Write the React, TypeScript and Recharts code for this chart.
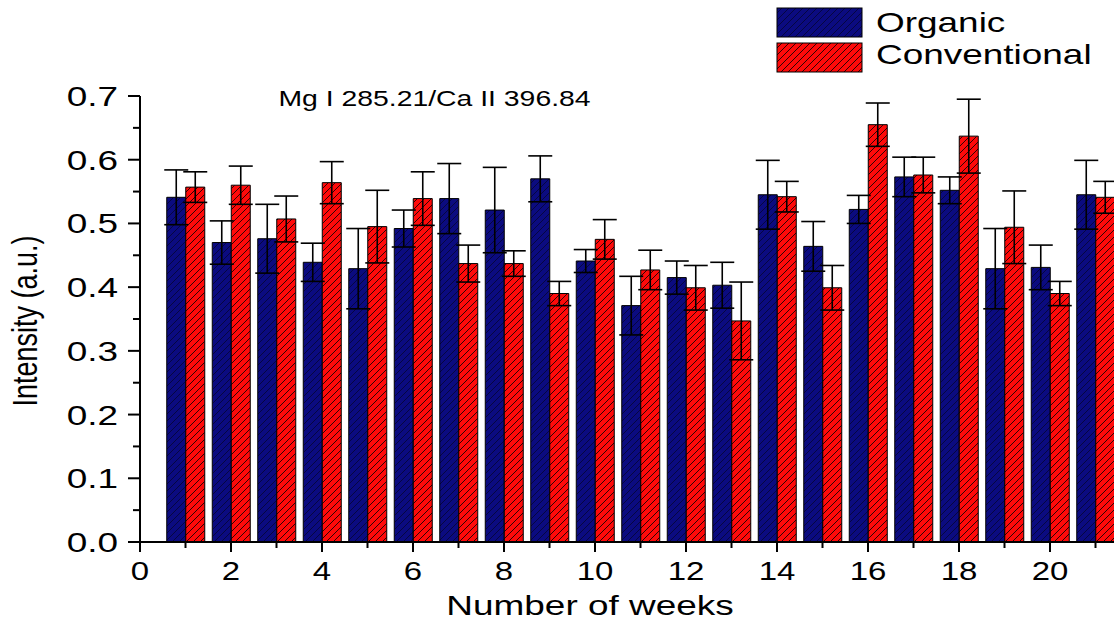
import { BarChart, Bar, XAxis, YAxis, ErrorBar, Legend, Customized } from 'recharts';

// weeks 1..21
const weeks = [1, 2, 3, 4, 5, 6, 7, 8, 9, 10, 11, 12, 13, 14, 15, 16, 17, 18, 19, 20, 21];
const organic = [0.541, 0.470, 0.476, 0.439, 0.429, 0.492, 0.539, 0.521, 0.570, 0.441, 0.371, 0.415, 0.403, 0.545, 0.464, 0.522, 0.573, 0.552, 0.429, 0.431, 0.545];
const organicErr = [0.043, 0.034, 0.054, 0.030, 0.063, 0.029, 0.055, 0.067, 0.036, 0.018, 0.046, 0.026, 0.036, 0.054, 0.039, 0.022, 0.031, 0.021, 0.063, 0.035, 0.054];
const conventional = [0.557, 0.560, 0.507, 0.564, 0.495, 0.539, 0.437, 0.437, 0.390, 0.475, 0.427, 0.399, 0.347, 0.542, 0.399, 0.655, 0.576, 0.637, 0.494, 0.390, 0.541];
const conventionalErr = [0.024, 0.030, 0.036, 0.033, 0.057, 0.042, 0.029, 0.020, 0.019, 0.031, 0.031, 0.035, 0.061, 0.024, 0.035, 0.034, 0.028, 0.058, 0.057, 0.019, 0.025];

const xTicks = [0, 1, 2, 3, 4, 5, 6, 7, 8, 9, 10, 11, 12, 13, 14, 15, 16, 17, 18, 19, 20, 21];
const yTicks = [0, 0.05, 0.1, 0.15, 0.2, 0.25, 0.3, 0.35, 0.4, 0.45, 0.5, 0.55, 0.6, 0.65, 0.7];

const title = 'Mg I 285.21/Ca II 396.84';
const seriesOrder = ['organic', 'conventional'];
const seriesNames = { organic: 'Organic', conventional: 'Conventional' };

const data = weeks.map((week, i) => ({
  week,
  organic: organic[i],
  organicErr: organicErr[i],
  conventional: conventional[i],
  conventionalErr: conventionalErr[i],
}));

const FONT = '"Liberation Sans", Arial, sans-serif';
const SX = 1.32; // source image is stretched horizontally
const NAVY = '#0b0b80';
const RED = '#ff0a0a';

function Hatch({ id, color, lineOpacity }: { id: string; color: string; lineOpacity: number }) {
  return (
    <pattern id={id} patternUnits="userSpaceOnUse" width={7} height={7}>
      <rect width={7} height={7} fill={color} />
      <path d="M0,7 L7,0 M-2,2 L2,-2 M5,9 L9,5" stroke="#000" strokeOpacity={lineOpacity} strokeWidth={0.9} />
    </pattern>
  );
}

function XTick({ x, y, payload }: any) {
  const major = payload.value % 2 === 0;
  return (
    <g>
      <line x1={x} x2={x} y1={y} y2={y + (major ? 10 : 6)} stroke="#000" strokeWidth={2} />
      {major && (
        <text transform={`translate(${x},${y + 38}) scale(${SX},1)`} textAnchor="middle" fontSize={25} fontFamily={FONT} fill="#000">
          {payload.value}
        </text>
      )}
    </g>
  );
}

function YTick({ x, y, payload }: any) {
  const v = payload.value;
  const major = Math.round(v * 100) % 10 === 0;
  return (
    <g>
      <line x1={x} x2={x - (major ? 12 : 7)} y1={y} y2={y} stroke="#000" strokeWidth={2} />
      {major && (
        <text transform={`translate(${x - 22},${y + 10}) scale(${SX},1)`} textAnchor="end" fontSize={28} fontFamily={FONT} fill="#000">
          {v.toFixed(1)}
        </text>
      )}
    </g>
  );
}

function Extras() {
  return (
    <g>
      <defs>
        <Hatch id="hatchBlue" color={NAVY} lineOpacity={0.55} />
        <Hatch id="hatchRed" color={RED} lineOpacity={0.9} />
      </defs>
      <text transform={`translate(434.5,106) scale(${SX},1)`} textAnchor="middle" fontSize={21.5} fontFamily={FONT} fill="#000">
        {title}
      </text>
      <text transform={`translate(37,321) scale(${SX},1) rotate(-90)`} textAnchor="middle" fontSize={27} fontFamily={FONT} fill="#000">
        Intensity (a.u.)
      </text>
      <text transform={`translate(590,615) scale(${SX},1)`} textAnchor="middle" fontSize={28} fontFamily={FONT} fill="#000">
        Number of weeks
      </text>
    </g>
  );
}

function LegendBox({ payload }: any) {
  const items = [...(payload || [])].sort(
    (a: any, b: any) => seriesOrder.indexOf(a.dataKey) - seriesOrder.indexOf(b.dataKey)
  );
  return (
    <svg width={340} height={70} style={{ display: 'block' }}>
      <defs>
        <Hatch id="lgBlue" color={NAVY} lineOpacity={0.55} />
        <Hatch id="lgRed" color={RED} lineOpacity={0.9} />
      </defs>
      {items.map((p: any, i: number) => (
        <g key={p.value}>
          <rect x={1} y={1 + i * 35} width={85} height={29} fill={`url(#${p.dataKey === 'organic' ? 'lgBlue' : 'lgRed'})`} stroke="#000" strokeWidth={1} />
          <text transform={`translate(100,${25 + i * 31.5}) scale(${SX},1)`} fontSize={28} fontFamily={FONT} fill="#000">
            {p.value}
          </text>
        </g>
      ))}
    </svg>
  );
}

export default function App() {
  return (
    <div style={{ position: 'fixed', left: 0, top: 0, width: 1114, height: 623, overflow: 'hidden', background: '#fff' }}>
      <BarChart
        width={1160}
        height={623}
        data={data}
        margin={{ top: 96, right: 19, bottom: 0, left: 80 }}
        barGap={0}
        barSize={19}
      >
        <Customized component={Extras} />
        <XAxis
          dataKey="week"
          type="number"
          domain={[0, 22]}
          ticks={xTicks}
          interval={0}
          height={81}
          tickSize={0}
          tickMargin={0}
          tickLine={false}
          axisLine={{ stroke: '#000', strokeWidth: 2 }}
          tick={<XTick />}
        />
        <YAxis
          type="number"
          domain={[0, 0.7]}
          ticks={yTicks}
          interval={0}
          width={60}
          tickSize={0}
          tickMargin={0}
          tickLine={false}
          axisLine={{ stroke: '#000', strokeWidth: 2 }}
          tick={<YTick />}
        />
        <Legend
          layout="vertical"
          align="center"
          verticalAlign="middle"
          wrapperStyle={{ position: 'absolute', left: 776, top: 7, width: 340 }}
          content={<LegendBox />}
        />
        <Bar dataKey="organic" name={seriesNames.organic} fill="url(#hatchBlue)" stroke="#000" strokeWidth={1} isAnimationActive={false}>
          <ErrorBar dataKey="organicErr" direction="y" width={12} stroke="#000" strokeWidth={1.6} />
        </Bar>
        <Bar dataKey="conventional" name={seriesNames.conventional} fill="url(#hatchRed)" stroke="#000" strokeWidth={1} isAnimationActive={false}>
          <ErrorBar dataKey="conventionalErr" direction="y" width={12} stroke="#000" strokeWidth={1.6} />
        </Bar>
      </BarChart>
    </div>
  );
}
